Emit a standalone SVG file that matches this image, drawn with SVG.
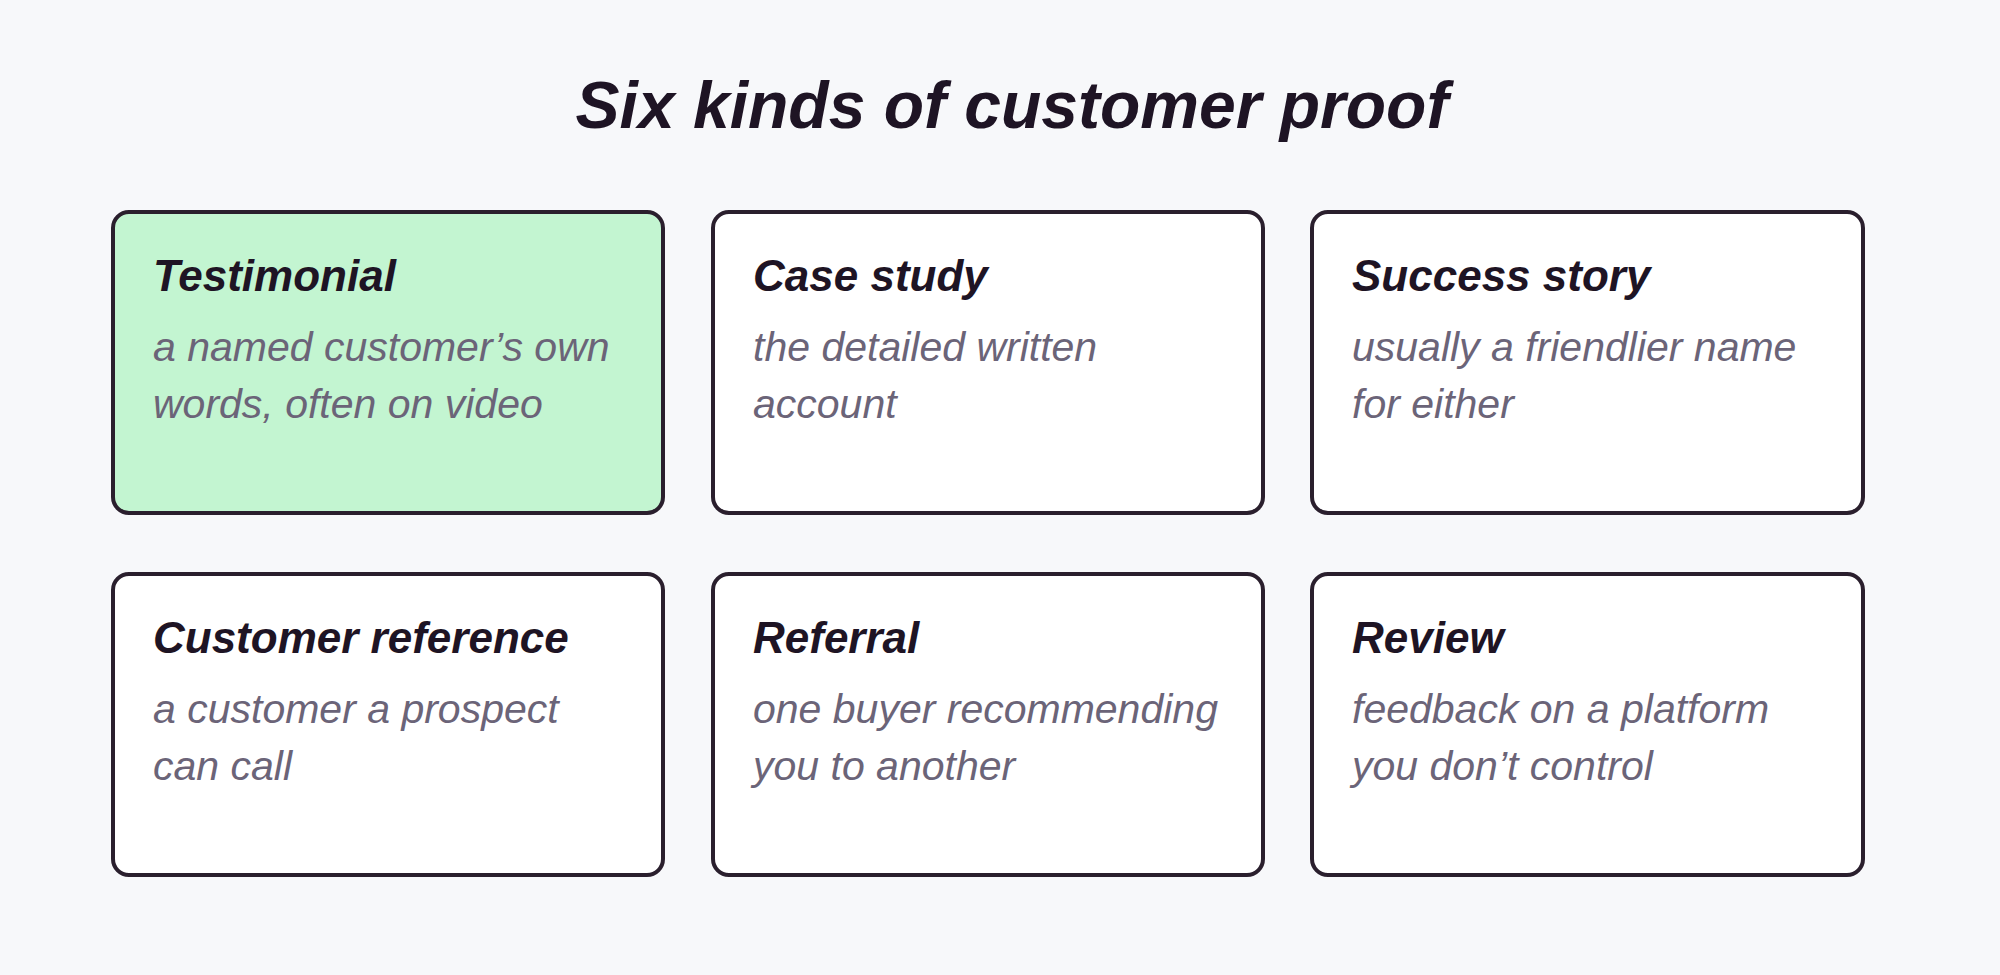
<svg xmlns="http://www.w3.org/2000/svg" width="2000" height="975" viewBox="0 0 2000 975">
<style>
.card{fill:#ffffff;stroke:#2a1f2d;stroke-width:4}
.hl{fill:#c3f5d1}
.h{font-family:"Liberation Sans",sans-serif;font-style:italic;font-weight:bold;font-size:44px;fill:#1e1424}
.d{font-family:"Liberation Sans",sans-serif;font-style:italic;font-size:41px;fill:#6b6478}
.t{font-family:"Liberation Sans",sans-serif;font-style:italic;font-weight:bold;font-size:66px;fill:#1e1424}
</style>
<rect width="2000" height="975" fill="#f7f8fa"/>
<text class="t" x="1012" y="128" text-anchor="middle">Six kinds of customer proof</text>
<g id="n1"><rect class="card hl" x="113" y="212" width="550" height="301" rx="16"/><text class="h" x="153" y="291">Testimonial</text><text class="d" x="153" y="361">a named customer’s own</text><text class="d" x="153" y="418">words, often on video</text></g>
<g id="n2"><rect class="card" x="713" y="212" width="550" height="301" rx="16"/><text class="h" x="753" y="291">Case study</text><text class="d" x="753" y="361">the detailed written</text><text class="d" x="753" y="418">account</text></g>
<g id="n3"><rect class="card" x="1312" y="212" width="551" height="301" rx="16"/><text class="h" x="1352" y="291">Success story</text><text class="d" x="1352" y="361">usually a friendlier name</text><text class="d" x="1352" y="418">for either</text></g>
<g id="n4"><rect class="card" x="113" y="574" width="550" height="301" rx="16"/><text class="h" x="153" y="653">Customer reference</text><text class="d" x="153" y="723">a customer a prospect</text><text class="d" x="153" y="780">can call</text></g>
<g id="n5"><rect class="card" x="713" y="574" width="550" height="301" rx="16"/><text class="h" x="753" y="653">Referral</text><text class="d" x="753" y="723">one buyer recommending</text><text class="d" x="753" y="780">you to another</text></g>
<g id="n6"><rect class="card" x="1312" y="574" width="551" height="301" rx="16"/><text class="h" x="1352" y="653">Review</text><text class="d" x="1352" y="723">feedback on a platform</text><text class="d" x="1352" y="780">you don’t control</text></g>
<g id="connectors"/>
</svg>
